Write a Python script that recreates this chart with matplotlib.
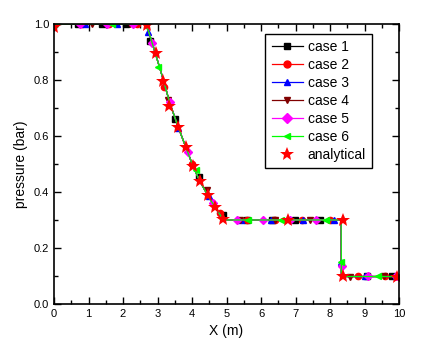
import matplotlib
matplotlib.use("Agg")
import matplotlib.pyplot as plt
from matplotlib.lines import Line2D
from matplotlib.ticker import MultipleLocator

plt.rcParams["font.family"] = ["Liberation Sans", "DejaVu Sans"]

# numerical pressure profile (the curves of all cases lie on top of each other)
x_prof = [0.0, 2.65, 2.75, 2.95, 3.17, 3.35, 3.59, 3.82, 4.02, 4.22, 4.47, 4.67, 4.85, 4.97, 8.32, 8.33, 10.0]
p_prof = [1.0, 1.0, 0.97, 0.89, 0.80, 0.72, 0.635, 0.56, 0.495, 0.44, 0.385, 0.345, 0.312, 0.30, 0.30, 0.098, 0.098]

# marker points of each case
x1 = [0.0, 0.7, 1.4, 2.1, 2.78, 3.5, 4.21, 4.91, 5.6, 6.33, 6.99, 7.71, 9.06, 9.8]
p1 = [1.0, 1.0, 1.0, 1.0, 0.94, 0.66, 0.452, 0.318, 0.30, 0.30, 0.30, 0.30, 0.10, 0.10]
x2 = [0.0, 0.8, 1.6, 2.41, 3.2, 4.0, 4.8, 5.6, 6.4, 7.2, 8.0, 8.8, 9.6]
p2 = [1.0, 1.0, 1.0, 1.0, 0.776, 0.50, 0.325, 0.30, 0.30, 0.30, 0.30, 0.10, 0.10]
x3 = [0.0, 0.9, 1.82, 2.72, 3.6, 4.5, 5.42, 6.29, 7.21, 8.12, 8.33, 9.0, 9.9]
p3 = [1.0, 1.0, 1.0, 0.97, 0.63, 0.385, 0.30, 0.30, 0.30, 0.30, 0.15, 0.10, 0.10]
x4 = [0.0, 1.1, 2.2, 3.3, 4.42, 5.4, 6.4, 7.42, 8.58, 9.55]
p4 = [1.0, 1.0, 1.0, 0.73, 0.407, 0.30, 0.30, 0.30, 0.095, 0.10]
x5 = [0.0, 0.76, 1.53, 2.3, 2.83, 3.35, 3.87, 4.6, 5.3, 6.07, 6.85, 7.6, 8.34, 9.1, 9.9]
p5 = [1.0, 1.0, 1.0, 1.0, 0.933, 0.72, 0.544, 0.36, 0.30, 0.30, 0.30, 0.30, 0.136, 0.10, 0.10]
x6 = [0.0, 1.67, 3.02, 4.12, 5.62, 6.57, 7.87, 8.33, 9.4, 10.0]
p6 = [1.0, 1.0, 0.848, 0.48, 0.30, 0.30, 0.30, 0.15, 0.10, 0.10]
# analytical solution
xa = [0.0, 2.69, 2.95, 3.17, 3.34, 3.59, 3.82, 4.02, 4.22, 4.47, 4.67, 4.9, 6.79, 8.39, 8.37, 9.93]
pa = [0.99, 0.996, 0.895, 0.797, 0.707, 0.633, 0.56, 0.493, 0.438, 0.389, 0.348, 0.303, 0.30, 0.30, 0.101, 0.095]

cases = [
    (x1, p1, "black", "s", "case 1"),
    (x2, p2, "red", "o", "case 2"),
    (x3, p3, "blue", "^", "case 3"),
    (x4, p4, "#800000", "v", "case 4"),
    (x5, p5, "magenta", "D", "case 5"),
    (x6, p6, "#00ff00", "<", "case 6"),
]

fig = plt.figure(figsize=(4.3, 3.61), dpi=100)
ax = fig.add_axes([0.1256, 0.158, 0.8024, 0.7755])

handles = []
for x, p, c, m, lab in cases:
    ms = 4 if m == "D" else 4.5
    ax.plot(x_prof, p_prof, color=c, linewidth=0.9)
    ax.plot(x, p, linestyle="none", color=c, marker=m, markersize=ms)
    handles.append(Line2D([], [], color=c, marker=m, markersize=5, linewidth=0.9, label=lab))

ax.plot(xa, pa, linestyle="none", marker="*", color="red", markersize=10,
        markeredgewidth=0)
handles.append(Line2D([], [], linestyle="none", marker="*", color="red",
                      markersize=10, markeredgewidth=0, label="analytical"))

ax.set_xlim(0, 10)
ax.set_ylim(0, 1.0)
ax.xaxis.set_major_locator(MultipleLocator(1))
ax.xaxis.set_minor_locator(MultipleLocator(0.5))
ax.yaxis.set_major_locator(MultipleLocator(0.2))
ax.yaxis.set_minor_locator(MultipleLocator(0.1))
ax.yaxis.set_major_formatter(plt.FuncFormatter(lambda v, pos: "%.1f" % v))
ax.tick_params(which="both", direction="in", top=True, right=True, labelsize=8,
               width=1)
ax.tick_params(which="major", length=5)
ax.tick_params(which="minor", length=3)
for s in ax.spines.values():
    s.set_linewidth(1.2)

ax.set_xlabel("X (m)", fontsize=10)
ax.set_ylabel("pressure (bar)", fontsize=10)

leg = ax.legend(handles=handles, loc="upper right", bbox_to_anchor=(0.922, 0.964),
                borderaxespad=0, fontsize=10, fancybox=False, edgecolor="black",
                framealpha=1, handlelength=2.3, labelspacing=0.28, borderpad=0.45,
                handletextpad=0.3)
leg.get_frame().set_linewidth(1.0)

fig.savefig("out.png", dpi=100)
